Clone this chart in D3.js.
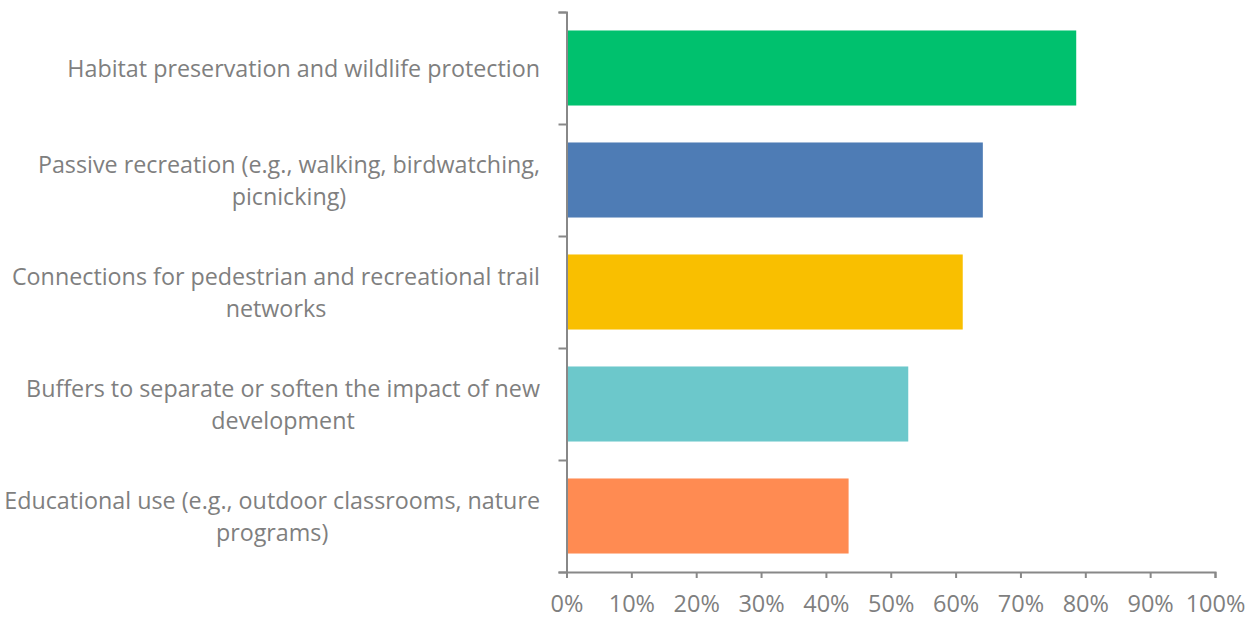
<!DOCTYPE html>
<html><head><meta charset="utf-8">
<script src="https://cdn.jsdelivr.net/npm/d3@7"></script>
<style>body{margin:0;background:#fff}</style>
</head><body>
<svg id="c" width="1254" height="618"></svg>
<script>
const categories = [
  ["Habitat preservation and wildlife protection"],
  ["Passive recreation (e.g., walking, birdwatching,", "picnicking)"],
  ["Connections for pedestrian and recreational trail", "networks"],
  ["Buffers to separate or soften the impact of new", "development"],
  ["Educational use (e.g., outdoor classrooms, nature", "programs)"]
];
const values = [78.6, 64.2, 61.1, 52.7, 43.5];
const colors = ["#00C16E", "#4E7CB5", "#F9BF00", "#6CC8CB", "#FF8B52"];
const tickValues = [0,10,20,30,40,50,60,70,80,90,100];

(function(){
const svg = d3.select("#c");
const L = 566.5, R = 1215, T = 12, B = 572;
const font = "'Open Sans', sans-serif";
const txt = "#7f7f7f", axc = "#888888";

const x = d3.scaleLinear().domain([0,100]).range([L,R]);
const y = d3.scaleBand().domain(d3.range(categories.length)).range([T,B]).paddingInner(0.33).paddingOuter(0.165);

svg.selectAll("rect.bar").data(values).join("rect")
  .attr("x", x(0)).attr("y",(d,i)=>y(i)).attr("width", d=>x(d)-x(0)).attr("height", y.bandwidth())
  .attr("fill",(d,i)=>colors[i]);

const xa = svg.append("g").attr("transform",`translate(0,${B})`)
  .call(d3.axisBottom(x).tickValues(tickValues).tickFormat(d=>d+"%").tickSize(6).tickSizeOuter(6));
xa.select(".domain").attr("stroke",axc).attr("stroke-width",2);
xa.selectAll(".tick line").attr("stroke",axc).attr("stroke-width",2);
xa.selectAll("text").attr("fill",txt).style("font-family",font).style("font-size","23.5px")
  .attr("y",40).attr("dy",null);

const yb = d3.scaleLinear().domain([0,categories.length]).range([T,B]);
const ya = svg.append("g").attr("transform",`translate(${L},0)`)
  .call(d3.axisLeft(yb).ticks(categories.length).tickFormat("").tickSize(8).tickSizeOuter(8));
ya.select(".domain").attr("stroke",axc).attr("stroke-width",2);
ya.selectAll(".tick line").attr("stroke",axc).attr("stroke-width",2);

const lh = 32;
categories.forEach((lines,i)=>{
  const g = svg.append("g");
  const cy = y(i) + y.bandwidth()/2;
  const ts = lines.map((l,k)=> g.append("text").text(l)
     .attr("fill",txt).style("font-family",font).style("font-size","23.3px")
     .attr("dominant-baseline","central")
     .attr("y", cy + (k-(lines.length-1)/2)*lh));
  const w = d3.max(ts, t=>t.node().getComputedTextLength());
  const cx = 540 - w/2;
  ts.forEach(t=>t.attr("x",cx).attr("text-anchor","middle"));
});
})();
</script>
</body></html>
